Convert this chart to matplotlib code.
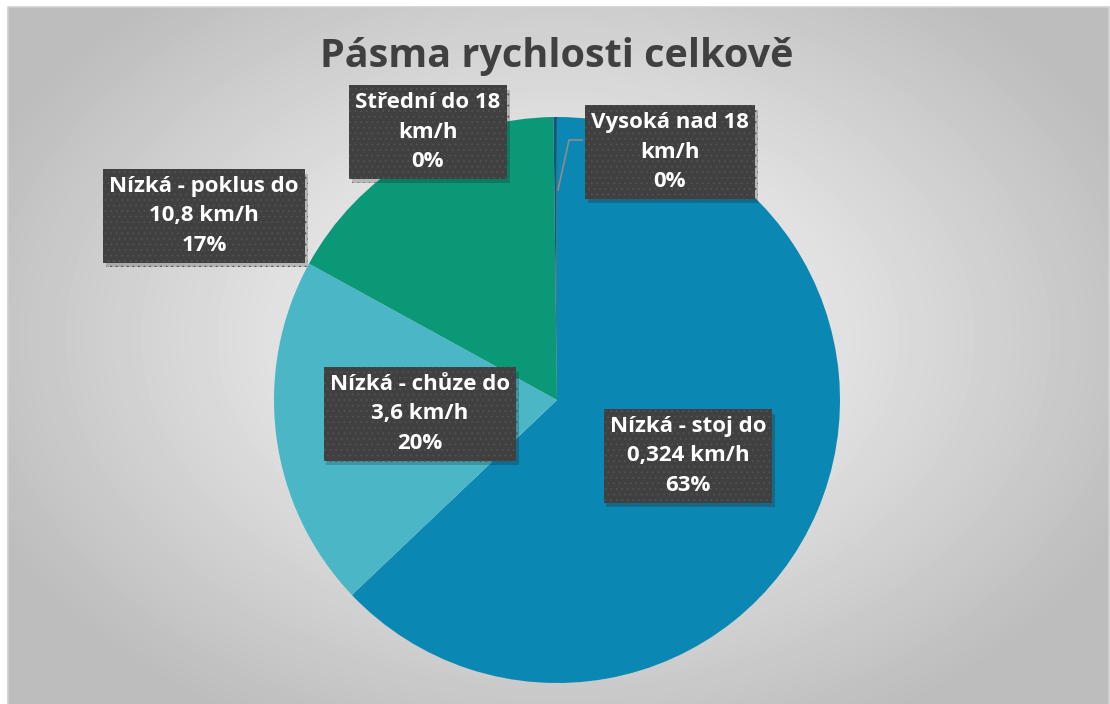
import numpy as np
import matplotlib
matplotlib.use("Agg")
import matplotlib.pyplot as plt
import matplotlib.patheffects as pe

plt.rcParams['font.family'] = ['Open Sans', 'DejaVu Sans']
plt.rcParams['hatch.linewidth'] = 0.6

# data
kategorie = ["Nízká - stoj do\n0,324 km/h", "Nízká - chůze do\n3,6 km/h",
             "Nízká - poklus do\n10,8 km/h", "Střední do 18\nkm/h", "Vysoká nad 18\nkm/h"]
podil = [62.9, 20.1, 16.8, 0.15, 0.05]
procenta = ["63%", "20%", "17%", "0%", "0%"]
barvy = ["#0b87b3", "#4bb6c5", "#0a9877", "#0d5a74", "#0b4d6a"]

W, H = 1110, 704
fig = plt.figure(figsize=(W / 100, H / 100), dpi=100)
fig.patch.set_facecolor("white")

# radial gradient background
bg = fig.add_axes([8 / W, 0, 1101 / W, 697 / H])
yy, xx = np.mgrid[0:697, 0:1101]
d = np.sqrt(((xx - 550) / 800.0) ** 2 + ((yy - 330) / 560.0) ** 2)
val = np.clip(1.0 - 0.33 * d, 0.74, 1.0)
bg.imshow(val, cmap="gray", vmin=0, vmax=1, aspect="auto", interpolation="bilinear")
bg.set_axis_off()
fig.add_artist(plt.Line2D([8 / W, 8 / W, 1109 / W, 1109 / W],
                          [0, 697 / H, 697 / H, 0], transform=fig.transFigure,
                          color="#d0d0d0", lw=1.2))

ax = fig.add_axes([0, 0, 1, 1])
ax.patch.set_alpha(0)
cx, cy, r = 557, H - 400, 283
wedges, _ = ax.pie(podil, colors=barvy, startangle=90, counterclock=False,
                   center=(cx, cy), radius=r, wedgeprops=dict(linewidth=0))
ax.set_xlim(0, W)
ax.set_ylim(0, H)
ax.set_aspect("equal")
ax.set_axis_off()

ax.text(557, H - 57, "Pásma rychlosti celkově", ha="center", va="center",
        fontsize=28.5, fontweight="bold", color="#404040")

# label box positions (centres, pixels)
pozice = [(688, 456), (420, 414), (204, 216), (428, 132), (670, 152)]
for kat, pct, (px, py) in zip(kategorie, procenta, pozice):
    t = ax.text(px, H - py, kat + "\n" + pct, ha="center", va="center",
                fontsize=16, fontweight="bold", color="white", linespacing=1.55,
                bbox=dict(boxstyle="square,pad=0.28", facecolor="#404040",
                          edgecolor="#535353", hatch="...", linewidth=0))
    t.get_bbox_patch().set_path_effects([
        pe.SimplePatchShadow(offset=(2, -3), shadow_rgbFace="black", alpha=0.18),
        pe.Normal()])

# leader line for Vysoká
ax.plot([558, 569, 582], [H - 190, H - 140, H - 140], color="#8c8c8c", lw=1.2)

fig.savefig("out.png", dpi=100)
